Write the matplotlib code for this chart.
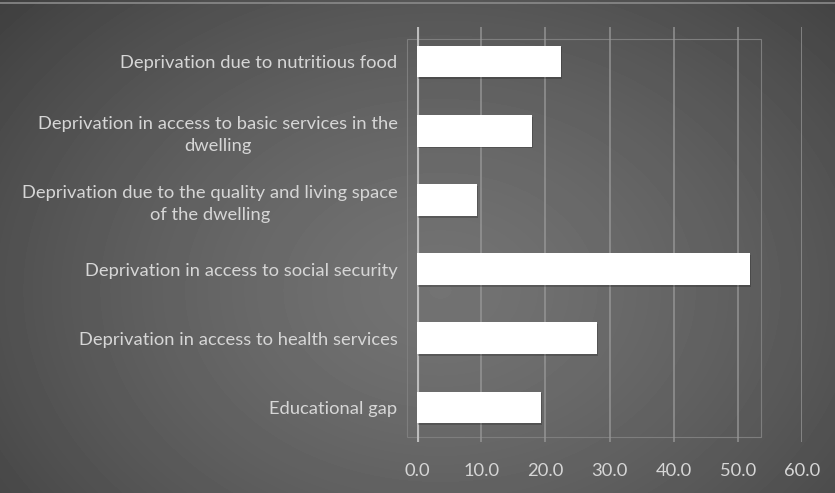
import matplotlib.pyplot as plt
import numpy as np
from matplotlib.patches import Rectangle

# ---------------------------------------------------------------------------
# Data
# ---------------------------------------------------------------------------

categories = [
    "Educational gap",
    "Deprivation in access to health services",
    "Deprivation in access to social security",
    "Deprivation due to the quality and living space\nof the dwelling",
    "Deprivation in access to basic services in the\ndwelling",
    "Deprivation due to nutritious food",
]
values = [19.3, 28.0, 51.9, 9.3, 17.9, 22.4]
x_ticks = [0, 10, 20, 30, 40, 50, 60]
x_tick_labels = ["0.0", "10.0", "20.0", "30.0", "40.0", "50.0", "60.0"]

TEXT = "#d6d6d6"
GRID = "#9a9a9a"

plt.rcParams["font.family"] = ["Lato", "DejaVu Sans"]

fig = plt.figure(figsize=(8.35, 4.93), dpi=100)

# soft radial gradient background
bg = fig.add_axes([0, 0, 1, 1])
yy, xx = np.mgrid[0:493, 0:835]
r = np.sqrt(((xx - 440) / 560.0) ** 2 + ((yy - 290) / 420.0) ** 2)
shade = 0.45 - 0.19 * r ** 1.4
bg.imshow(shade, cmap="gray", vmin=0, vmax=1, aspect="auto",
          extent=[0, 835, 493, 0], interpolation="bilinear")
bg.plot([0, 835], [3, 3], color="#8a8a8a", lw=1.2)
bg.set_xlim(0, 835)
bg.set_ylim(493, 0)
bg.axis("off")

# back wall outline (3-D effect of the original)
bg.add_patch(Rectangle((407, 39), 354, 398, fill=False, ec="#7e7e7e", lw=0.8))

ax = fig.add_axes([417 / 835, 1 - 442 / 493, 385 / 835, 415 / 493])
ax.patch.set_alpha(0)

ypos = np.arange(len(categories))
ax.barh(ypos - 0.025, values, height=0.46, left=0.2, color="black", alpha=0.2, zorder=2)
ax.barh(ypos, values, height=0.46, color="white", zorder=3)

ax.set_xlim(0, 60)
ax.set_ylim(-0.5, len(categories) - 0.5)
ax.set_xticks(x_ticks)
ax.set_xticklabels(x_tick_labels)
ax.set_yticks(ypos)
ax.set_yticklabels(categories)
for lbl in ax.get_yticklabels():
    lbl.set_multialignment("center")
    lbl.set_linespacing(1.45)

ax.tick_params(axis="both", length=0, colors=TEXT, labelsize=13.2)
ax.tick_params(axis="y", pad=14)
ax.tick_params(axis="x", pad=15)

ax.xaxis.grid(True, color=GRID, lw=1.3, alpha=0.75, zorder=1)
ax.set_axisbelow(True)
for s in ax.spines.values():
    s.set_visible(False)
ax.axvline(0, color="#bdbdbd", lw=3, zorder=1)

fig.savefig("out.png", dpi=100)
